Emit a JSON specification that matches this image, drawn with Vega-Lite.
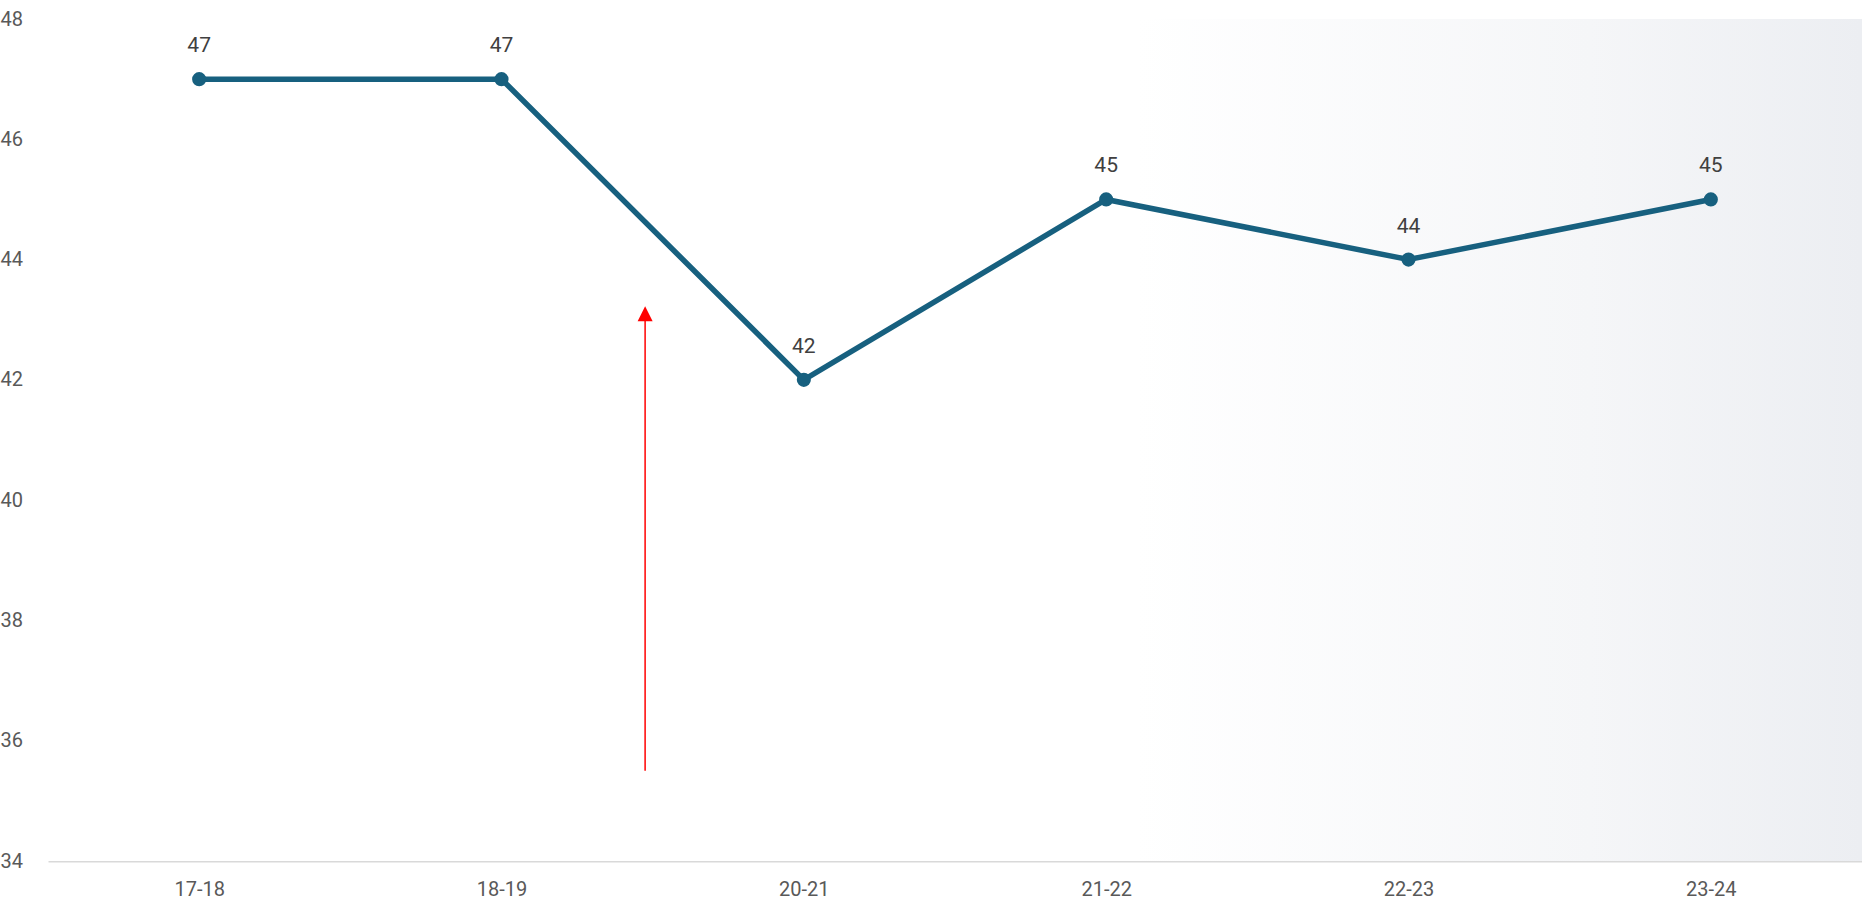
{
  "$schema": "https://vega.github.io/schema/vega-lite/v6.json",
  "width": 1814,
  "height": 842,
  "autosize": {"type": "none"},
  "padding": {"left": 48, "top": 19, "right": 0, "bottom": 47},
  "background": "white",
  "config": {
    "view": {"stroke": null},
    "font": "Roboto"
  },
  "datasets": {
    "series": [
      {"idx": 0, "year": "17-18", "value": 47},
      {"idx": 1, "year": "18-19", "value": 47},
      {"idx": 2, "year": "20-21", "value": 42},
      {"idx": 3, "year": "21-22", "value": 45},
      {"idx": 4, "year": "22-23", "value": 44},
      {"idx": 5, "year": "23-24", "value": 45}
    ],
    "arrow": [
      {"pos": 1.475, "start": 35.5, "end": 43.0, "head": 43.1}
    ]
  },
  "layer": [
    {
      "data": {"values": [{}]},
      "mark": {
        "type": "rect",
        "color": {
          "gradient": "linear",
          "x1": 0, "x2": 1, "y1": 0.5, "y2": 0.5,
          "stops": [
            {"offset": 0, "color": "#ffffff"},
            {"offset": 0.6, "color": "#ffffff"},
            {"offset": 0.85, "color": "#f5f6f8"},
            {"offset": 1, "color": "#eceef2"}
          ]
        }
      },
      "encoding": {
        "x": {"datum": -0.5, "type": "quantitative"},
        "x2": {"datum": 5.5},
        "y": {"datum": 34, "type": "quantitative"},
        "y2": {"datum": 48}
      }
    },
    {
      "data": {"name": "series"},
      "mark": {"type": "line", "color": "#17607f", "strokeWidth": 5.5},
      "encoding": {
        "x": {
          "field": "idx", "type": "quantitative",
          "scale": {"domain": [-0.5, 5.5], "nice": false, "zero": false},
          "axis": {
            "title": null,
            "values": [0, 1, 2, 3, 4, 5],
            "labelExpr": "['17-18','18-19','20-21','21-22','22-23','23-24'][datum.value]",
            "grid": false,
            "ticks": false,
            "domainColor": "#d9d9d9",
            "domainWidth": 2,
            "labelFontSize": 20,
            "labelColor": "#595959",
            "labelPadding": 18,
            "labelFont": "Roboto"
          }
        },
        "y": {
          "field": "value", "type": "quantitative",
          "scale": {"domain": [34, 48], "nice": false, "zero": false},
          "axis": {
            "title": null,
            "values": [34, 36, 38, 40, 42, 44, 46, 48],
            "format": "d",
            "grid": false,
            "ticks": false,
            "domain": false,
            "labelAlign": "left",
            "labelPadding": 48,
            "labelFontSize": 20,
            "labelColor": "#595959",
            "labelFont": "Roboto"
          }
        }
      }
    },
    {
      "data": {"name": "series"},
      "mark": {"type": "point", "filled": true, "opacity": 1, "color": "#17607f", "size": 200},
      "encoding": {
        "x": {"field": "idx", "type": "quantitative"},
        "y": {"field": "value", "type": "quantitative"}
      }
    },
    {
      "data": {"name": "series"},
      "mark": {"type": "text", "dy": -33, "fontSize": 21, "color": "#404040", "font": "Roboto"},
      "encoding": {
        "x": {"field": "idx", "type": "quantitative"},
        "y": {"field": "value", "type": "quantitative"},
        "text": {"field": "value", "type": "quantitative"}
      }
    },
    {
      "data": {"name": "arrow"},
      "mark": {"type": "rule", "color": "#ff0000", "strokeWidth": 1.5},
      "encoding": {
        "x": {"field": "pos", "type": "quantitative"},
        "y": {"field": "start", "type": "quantitative"},
        "y2": {"field": "end"}
      }
    },
    {
      "data": {"name": "arrow"},
      "mark": {"type": "point", "shape": "M-1,1L0,-1L1,1Z", "filled": true, "opacity": 1, "color": "#ff0000", "size": 225},
      "encoding": {
        "x": {"field": "pos", "type": "quantitative"},
        "y": {"field": "head", "type": "quantitative"}
      }
    }
  ]
}
